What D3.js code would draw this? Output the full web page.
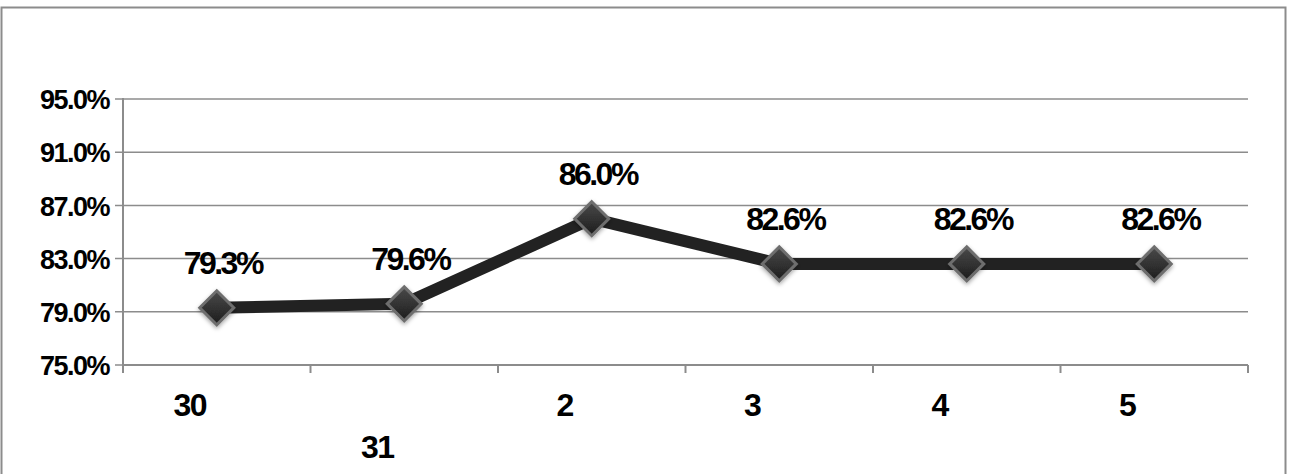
<!DOCTYPE html>
<html>
<head>
<meta charset="utf-8">
<script src="https://cdn.jsdelivr.net/npm/d3@7"></script>
<style>
  body { margin: 0; background: #fff; }
  text { font-family: "Liberation Sans", Arial, sans-serif; font-weight: bold; fill: #000; }
</style>
</head>
<body>
<svg id="chart"></svg>
<script>
// chart data
var categories = ["30", "31", "2", "3", "4", "5"];
var values = [79.3, 79.6, 86.0, 82.6, 82.6, 82.6];
var yTicks = [75, 79, 83, 87, 91, 95];

var width = 1292,
    height = 474;

var margin = {top: 99, right: 44, bottom: 109, left: 123};

var svg = d3.select("#chart")
    .attr("width", width)
    .attr("height", height);

// outer frame
svg.append("rect")
    .attr("x", 1.5).attr("y", 7.5)
    .attr("width", 1284).attr("height", 480)
    .attr("fill", "none")
    .attr("stroke", "#8c8c8c")
    .attr("stroke-width", 2);

var defs = svg.append("defs");
var grad = defs.append("linearGradient")
    .attr("id", "mk").attr("x1", 0).attr("y1", 0).attr("x2", 0).attr("y2", 1);
grad.append("stop").attr("offset", "0%").attr("stop-color", "#4a4a4a");
grad.append("stop").attr("offset", "50%").attr("stop-color", "#333");
grad.append("stop").attr("offset", "100%").attr("stop-color", "#1c1c1c");
var shadow = defs.append("filter").attr("id", "sh")
    .attr("x", "-50%").attr("y", "-50%").attr("width", "200%").attr("height", "200%");
shadow.append("feDropShadow")
    .attr("dx", 0).attr("dy", 2).attr("stdDeviation", 2)
    .attr("flood-color", "#000").attr("flood-opacity", 0.35);

var x = d3.scaleBand()
    .domain(categories)
    .range([margin.left, width - margin.right]);

var y = d3.scaleLinear()
    .domain([75, 95])
    .range([height - margin.bottom, margin.top]);

// gridlines
svg.append("g")
  .selectAll("line")
  .data(yTicks)
  .enter().append("line")
    .attr("x1", margin.left - 8)
    .attr("x2", width - margin.right)
    .attr("y1", function(d) { return y(d); })
    .attr("y2", function(d) { return y(d); })
    .attr("stroke", "#8c8c8c")
    .attr("stroke-width", 1.5);

// y axis
var yAxis = svg.append("g")
    .attr("transform", "translate(" + margin.left + ",0)")
    .call(d3.axisLeft(y).tickValues(yTicks).tickSize(8).tickPadding(6)
      .tickFormat(function(d) { return d.toFixed(1) + "%"; }));
yAxis.select(".domain").attr("stroke", "#8c8c8c").attr("stroke-width", 2)
    .attr("d", "M0," + (margin.top - 1) + "V" + (height - margin.bottom + 8));
yAxis.selectAll(".tick line").remove();
yAxis.selectAll("text")
    .style("font-size", "27px")
    .style("letter-spacing", "-1.5px")
    .attr("dy", "0.36em");

// x axis
var xAxis = svg.append("g")
    .attr("transform", "translate(0," + (height - margin.bottom) + ")");
xAxis.append("line")
    .attr("x1", margin.left).attr("x2", width - margin.right)
    .attr("stroke", "#8c8c8c").attr("stroke-width", 2);
var xEdges = categories.map(function(c) { return x(c); }).concat([width - margin.right]);
xAxis.selectAll("line.tick")
  .data(xEdges)
  .enter().append("line")
    .attr("class", "tick")
    .attr("x1", function(d) { return d; })
    .attr("x2", function(d) { return d; })
    .attr("y1", 0).attr("y2", 8)
    .attr("stroke", "#8c8c8c").attr("stroke-width", 2);
xAxis.selectAll("text")
  .data(categories)
  .enter().append("text")
    .attr("x", function(d) { return x(d) + x.bandwidth() / 2 - 27; })
    .attr("y", function(d, i) { return i === 1 ? 93 : 51; })
    .attr("text-anchor", "middle")
    .style("font-size", "32px")
    .style("letter-spacing", "-1.5px")
    .text(function(d) { return d; });

var cx = function(i) { return x(categories[i]) + x.bandwidth() / 2; };

// series line
var line = d3.line()
    .x(function(d, i) { return cx(i); })
    .y(function(d) { return y(d); });

svg.append("path")
    .datum(values)
    .attr("d", line)
    .attr("fill", "none")
    .attr("stroke", "#222")
    .attr("stroke-width", 12)
    .attr("stroke-linejoin", "round");

// markers
svg.append("g")
  .selectAll("path")
  .data(values)
  .enter().append("path")
    .attr("transform", function(d, i) { return "translate(" + cx(i) + "," + y(d) + ")"; })
    .attr("d", "M0,-17L17,0L0,17L-17,0Z")
    .attr("fill", "url(#mk)")
    .attr("stroke", "#6e6e6e")
    .attr("stroke-width", 3)
    .attr("filter", "url(#sh)");

// data labels
svg.append("g")
  .selectAll("text")
  .data(values)
  .enter().append("text")
    .attr("x", function(d, i) { return cx(i) + 6; })
    .attr("y", function(d) { return y(d) - 34; })
    .attr("text-anchor", "middle")
    .style("font-size", "32px")
    .style("letter-spacing", "-2.5px")
    .text(function(d) { return d.toFixed(1) + "%"; });
</script>
</body>
</html>
